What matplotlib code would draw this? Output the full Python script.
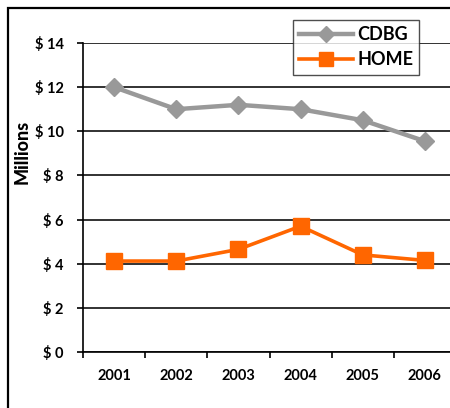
import matplotlib.pyplot as plt
from matplotlib.patches import Rectangle

# values (millions of dollars)
years = ["2001", "2002", "2003", "2004", "2005", "2006"]
cdbg = [12.0, 11.0, 11.2, 11.0, 10.5, 9.55]
home = [4.12, 4.12, 4.65, 5.7, 4.4, 4.15]
yticks = [0, 2, 4, 6, 8, 10, 12, 14]
ytick_labels = ["$ 0", "$ 2", "$ 4", "$ 6", "$ 8", "$ 10", "$ 12", "$ 14"]

plt.rcParams['font.family'] = ['Lato', 'DejaVu Sans']

fig = plt.figure(figsize=(4.5, 4.08), dpi=100)
W, H = 450, 408

# plot area runs slightly past the right edge of the picture, as in the reference
ax = fig.add_axes([83 / W, (H - 352) / H, (456 - 83) / W, (352 - 43) / H])

x = range(len(years))
ax.plot(x, cdbg, color="#999999", lw=3.2, marker="D", ms=9, label="CDBG", zorder=3)
ax.plot(x, home, color="#FF6600", lw=2.6, marker="s", ms=12, label="HOME", zorder=3)

ax.set_ylim(0, 14)
ax.set_xlim(-0.5, len(years) - 0.5)
ax.set_yticks(yticks)
ax.set_yticklabels(ytick_labels, fontsize=10.5, fontweight="bold")
ax.set_xticks(list(x))
ax.set_xticklabels(years, fontsize=10.5, fontweight="bold")
ax.set_xticks([i - 0.5 for i in range(len(years) + 1)], minor=True)
ax.tick_params(axis="x", which="major", length=0, pad=12)
ax.tick_params(axis="x", which="minor", length=4, width=1.2, direction="out")
ax.tick_params(axis="y", length=4, width=1.2, pad=10)

ax.grid(axis="y", color="#222222", lw=1.3)
ax.set_axisbelow(True)
for side in ["top", "right"]:
    ax.spines[side].set_visible(False)
for side in ["left", "bottom"]:
    ax.spines[side].set_linewidth(1.2)

fig.text(22 / W, 1 - 152 / H, "Millions", rotation=90, ha="center", va="center",
         fontsize=13, fontweight="black")

leg = fig.legend(loc="upper left", bbox_to_anchor=(293 / W, 1 - 20 / H),
                 frameon=True, fancybox=False, edgecolor="#222222",
                 fontsize=13, handlelength=3.0, borderpad=0.35, labelspacing=0.45,
                 handletextpad=0.2, borderaxespad=0, markerscale=0.85)
leg.get_frame().set_linewidth(1.0)
for t in leg.get_texts():
    t.set_fontweight("bold")

# outer frame, cut off at right and bottom like the reference
fig.patches.append(Rectangle((8 / W, -0.1), 1.2, 1 - 8 / H + 0.1, transform=fig.transFigure,
                             fill=False, edgecolor="black", lw=1.6, zorder=0))

fig.savefig("out.png", dpi=100)
